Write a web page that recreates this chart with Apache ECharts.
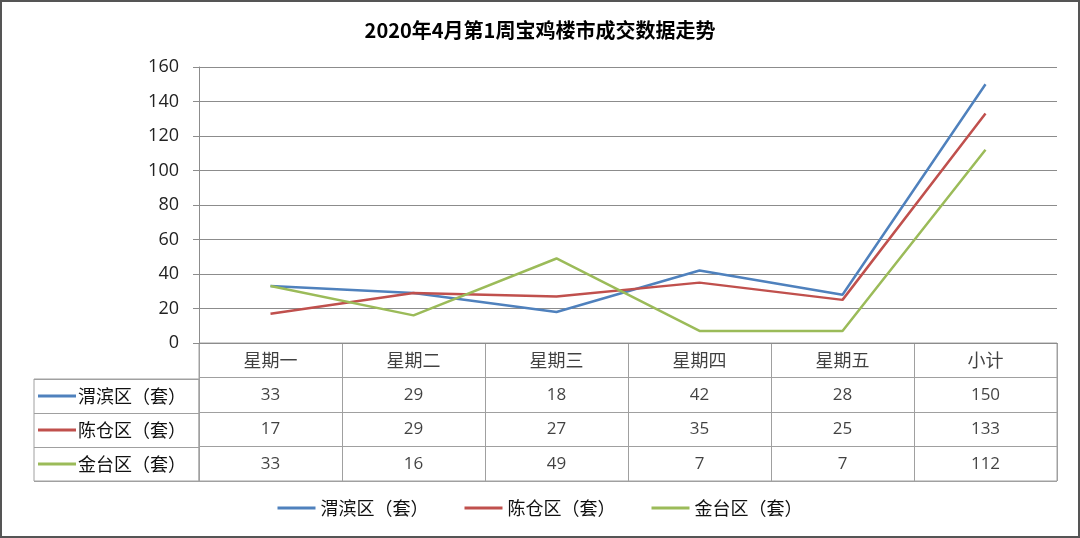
<!DOCTYPE html>
<html><head><meta charset="utf-8">
<script src="https://cdn.jsdelivr.net/npm/echarts@6/dist/echarts.min.js"></script>
<style>
html,body{margin:0;padding:0;background:#fff;}
#wrap{position:relative;width:1080px;height:538px;}
#c{width:1080px;height:538px;}
#frame{position:absolute;left:0;top:0;width:1076px;height:534px;border:2px solid #555;pointer-events:none;}
</style></head>
<body><div id="wrap"><div id="c"></div><div id="frame"></div></div>
<script>
const title = '2020年4月第1周宝鸡楼市成交数据走势';
const categories = ['星期一','星期二','星期三','星期四','星期五','小计'];
const seriesNames = ['渭滨区（套）','陈仓区（套）','金台区（套）'];
const weibin = [33,29,18,42,28,150];
const chencang = [17,29,27,35,25,133];
const jintai = [33,16,49,7,7,112];
const colors = ['#4F81BD','#C0504D','#9BBB59'];
const yTicks = {min:0, max:160, interval:20};

const values = [weibin, chencang, jintai];
const font = '"Open Sans","Noto Sans CJK SC",sans-serif';
const cjk = '"Noto Sans CJK SC",sans-serif';
const lineGray = '#8c8c8c';

// table cells built from data
const cellData = [];
categories.forEach((c,i)=>cellData.push({value:[i,0], label:{formatter:c, fontFamily:cjk, fontSize:18}}));
values.forEach((arr,r)=>arr.forEach((v,i)=>cellData.push({value:[i,r+1], label:{formatter:String(v)}})));

const rich = {};
colors.forEach((c,i)=>{ rich['l'+i] = {backgroundColor:c, width:38, height:3}; });
rich.t = {fontSize:18, fontFamily:cjk, color:'#111', padding:[0,0,0,2]};

const chart = echarts.init(document.getElementById('c'));
chart.setOption({
  animation:false,
  title:{text:title, left:'center', top:15, textStyle:{fontSize:20, fontWeight:'bold', color:'#000', fontFamily:cjk}},
  legend:{bottom:16, left:'center', icon:'rect', itemWidth:38, itemHeight:3, itemGap:36,
    textStyle:{fontSize:18, fontFamily:cjk, color:'#111'},
    data:seriesNames},
  grid:[
    {left:199, right:23, top:67, bottom:195},
    {left:199, right:23, top:343, bottom:57, show:true, borderColor:'#a0a0a0', borderWidth:1},
    {left:34, width:165, top:379, bottom:57, show:true, borderColor:'#a0a0a0', borderWidth:1}
  ],
  xAxis:[
    {gridIndex:0, type:'category', data:categories, boundaryGap:true,
      axisLine:{show:true, lineStyle:{color:lineGray}}, axisTick:{show:false}, axisLabel:{show:false}},
    {gridIndex:1, type:'category', data:categories, boundaryGap:true,
      axisLine:{show:false}, axisTick:{show:false}, axisLabel:{show:false},
      splitLine:{show:true, interval:0, lineStyle:{color:'#a0a0a0'}}},
    {gridIndex:2, type:'value', min:0, max:1, show:false}
  ],
  yAxis:[
    {gridIndex:0, type:'value', min:yTicks.min, max:yTicks.max, interval:yTicks.interval,
      axisLine:{show:true, lineStyle:{color:lineGray}},
      axisTick:{show:true, length:6, lineStyle:{color:lineGray}},
      axisLabel:{fontSize:18, color:'#222', fontFamily:font, margin:20},
      splitLine:{show:true, lineStyle:{color:lineGray}}},
    {gridIndex:1, type:'category', data:['h'].concat(seriesNames), inverse:true,
      axisLine:{show:false}, axisTick:{show:false}, axisLabel:{show:false},
      splitLine:{show:true, interval:0, lineStyle:{color:'#a0a0a0'}}},
    {gridIndex:2, type:'category', data:seriesNames, inverse:true,
      axisLine:{show:false}, axisTick:{show:false},
      splitLine:{show:true, interval:0, lineStyle:{color:'#a0a0a0'}},
      axisLabel:{inside:true, margin:4, align:'left', rich:rich,
        formatter:(v)=>{const i=seriesNames.indexOf(v); return '{l'+i+'|}{t|'+v+'}';}}}
  ],
  series: values.map((arr,i)=>({
    name:seriesNames[i], type:'line', xAxisIndex:0, yAxisIndex:0, data:arr,
    symbol:'none', lineStyle:{width:2.5, color:colors[i]}, itemStyle:{color:colors[i]}
  })).concat([{
    type:'scatter', xAxisIndex:1, yAxisIndex:1, symbolSize:0, data:cellData, silent:true,
    label:{show:true, position:'inside', fontSize:17, color:'#111', fontFamily:font}
  }])
});
</script></body></html>
